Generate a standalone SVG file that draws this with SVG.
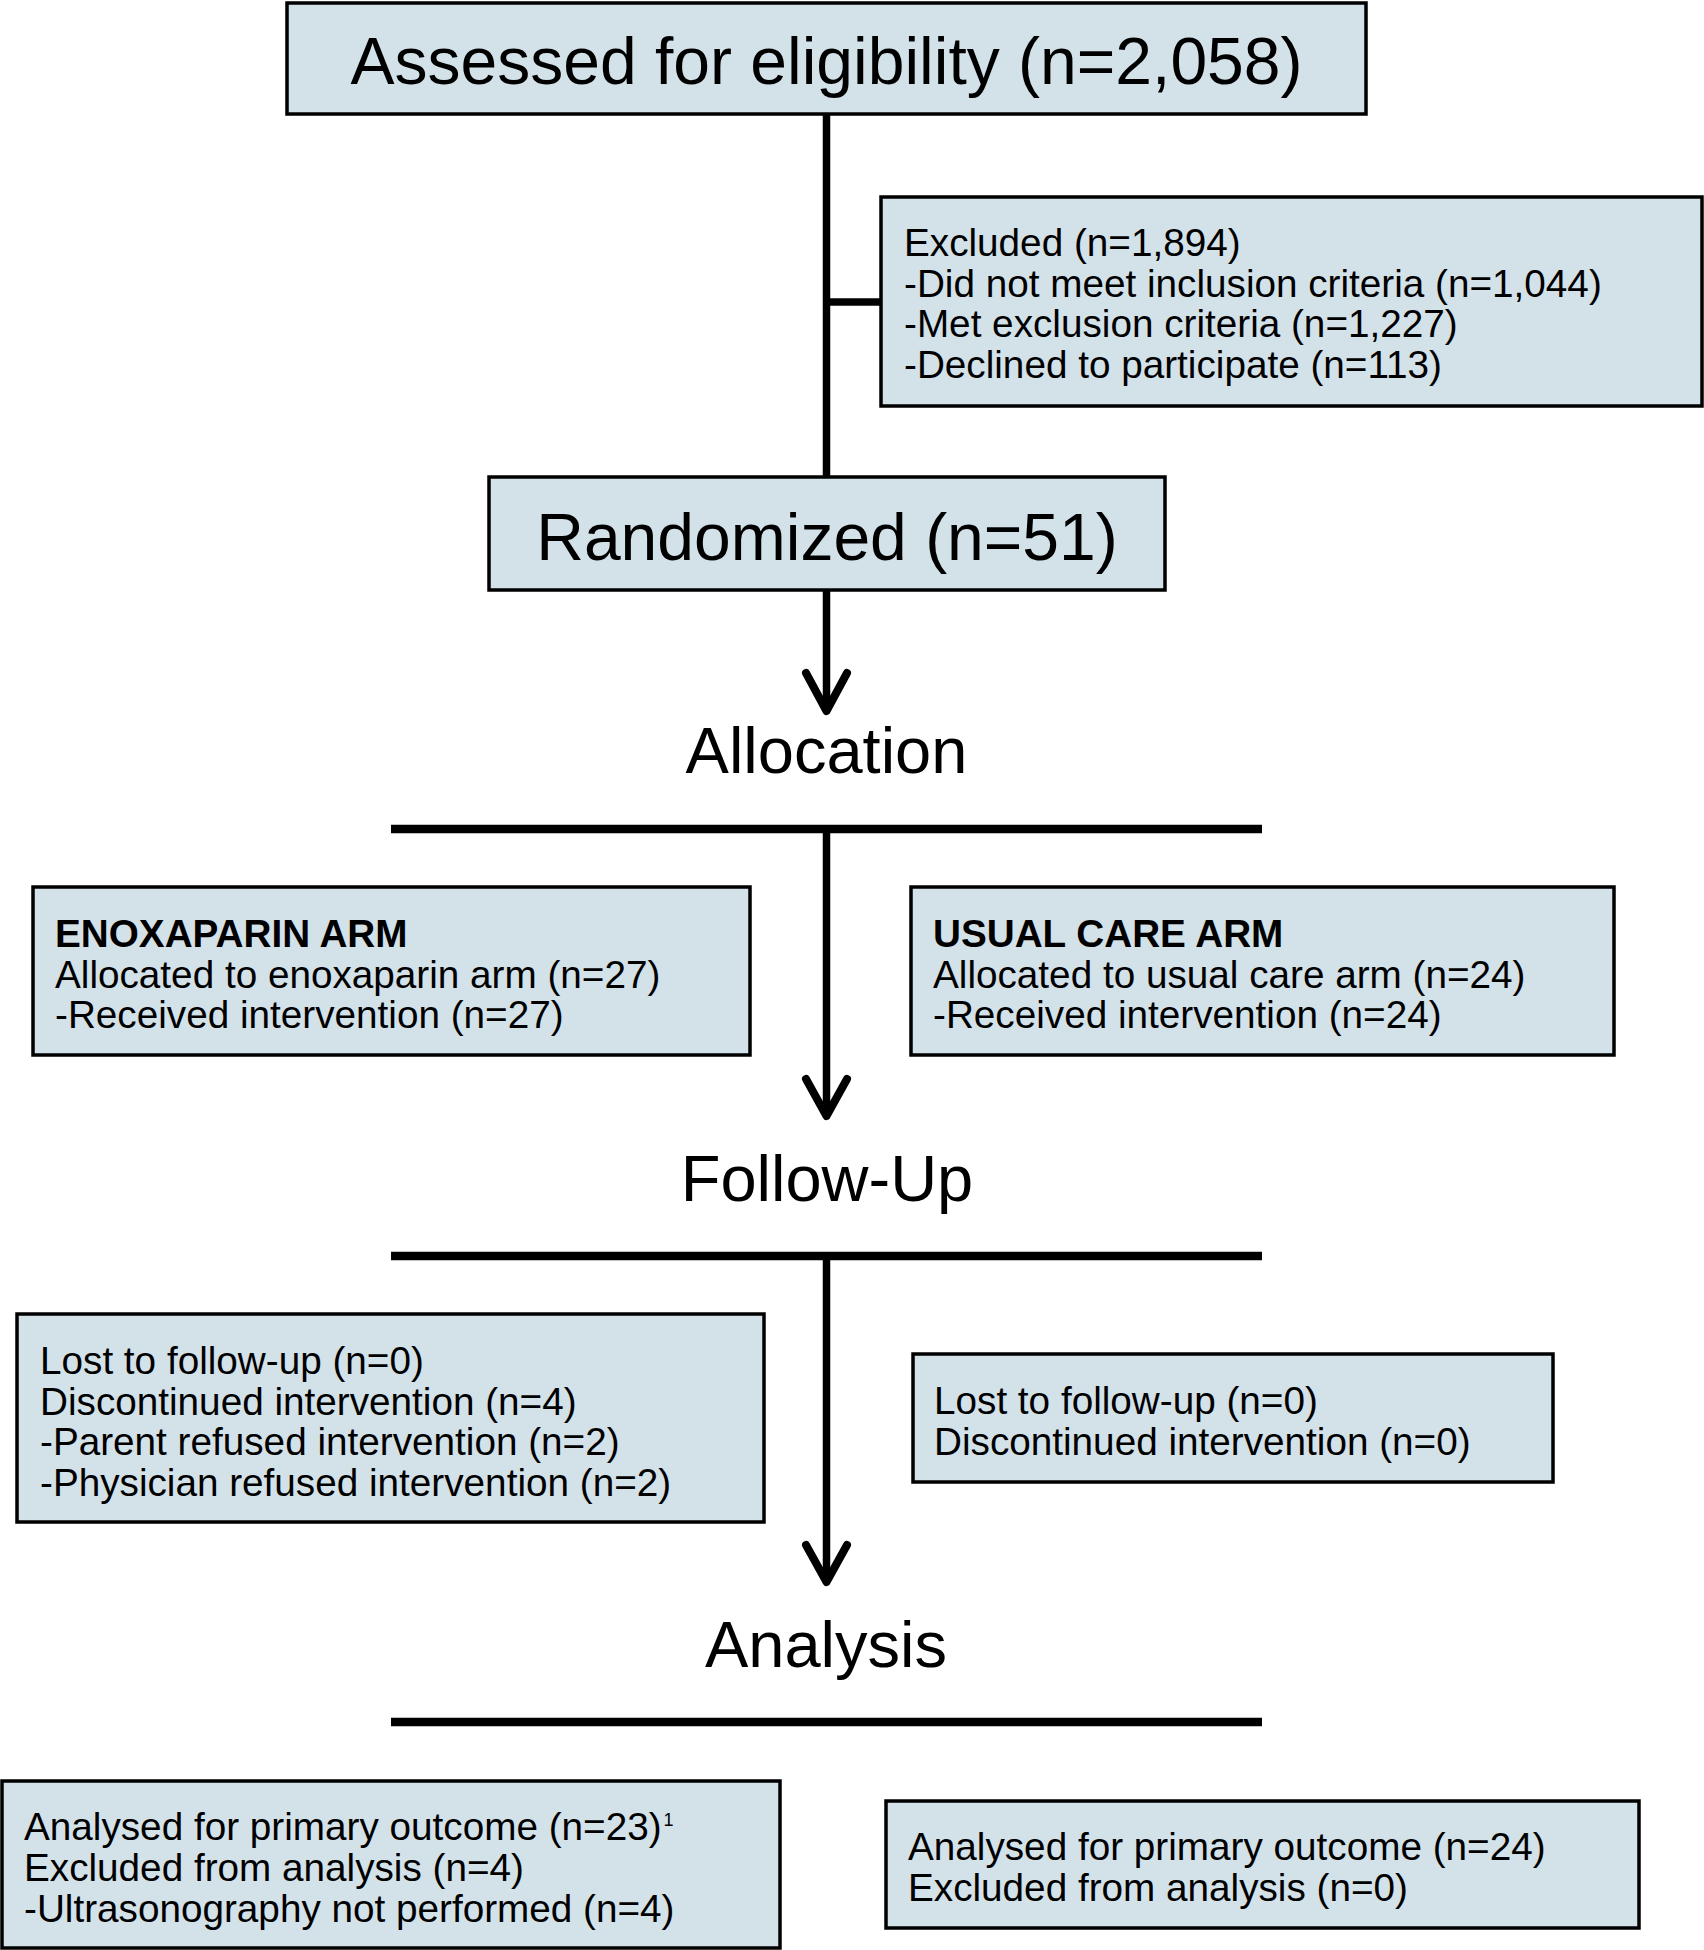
<svg xmlns="http://www.w3.org/2000/svg" width="1704" height="1950" viewBox="0 0 1704 1950">
<style>
.box{fill:#d3e1e9;stroke:#000;stroke-width:3.5}
.t{font-family:"Liberation Sans",Arial,sans-serif;fill:#000}
.big{font-size:66px;text-anchor:middle}
.stage{font-size:65px;text-anchor:middle}
.sm{font-size:38.7px}
.b{font-weight:bold}
.ln{stroke:#000;stroke-width:7.5;fill:none}
.bar{stroke:#000;stroke-width:8.5;fill:none}
.ah{stroke:#000;stroke-width:8;fill:none;stroke-linecap:round;stroke-linejoin:round}
</style>
<rect width="1704" height="1950" fill="#fff"/>
<g id="connectors">
<line class="ln" x1="826.5" y1="114" x2="826.5" y2="477"/>
<line class="ln" x1="826.5" y1="302" x2="881" y2="302"/>
<line class="ln" x1="826.5" y1="590" x2="826.5" y2="710"/>
<polyline class="ah" points="806,673 826.5,711 847,673"/>
<line class="bar" x1="391" y1="829" x2="1262" y2="829"/>
<line class="ln" x1="826.5" y1="829" x2="826.5" y2="1115"/>
<polyline class="ah" points="806,1079 826.5,1116 847,1079"/>
<line class="bar" x1="391" y1="1256" x2="1262" y2="1256"/>
<line class="ln" x1="826.5" y1="1256" x2="826.5" y2="1581"/>
<polyline class="ah" points="806,1545 826.5,1582 847,1545"/>
<line class="bar" x1="391" y1="1722" x2="1262" y2="1722"/>
</g>
<g id="assessed">
<rect class="box" x="287" y="3" width="1079" height="111"/>
<text class="t big" x="826.5" y="84">Assessed for eligibility (n=2,058)</text>
</g>
<g id="excluded">
<rect class="box" x="881" y="197" width="821" height="209"/>
<text class="t sm" x="904" y="256">Excluded (n=1,894)</text>
<text class="t sm" x="904" y="296.5">-Did not meet inclusion criteria (n=1,044)</text>
<text class="t sm" x="904" y="337">-Met exclusion criteria (n=1,227)</text>
<text class="t sm" x="904" y="377.5">-Declined to participate (n=113)</text>
</g>
<g id="randomized">
<rect class="box" x="489" y="477" width="676" height="113"/>
<text class="t big" x="827" y="560">Randomized (n=51)</text>
</g>
<g id="allocation">
<text class="t stage" x="826.5" y="773">Allocation</text>
</g>
<g id="enox-arm">
<rect class="box" x="33" y="887" width="717" height="168"/>
<text class="t sm b" x="55" y="947">ENOXAPARIN ARM</text>
<text class="t sm" x="55" y="988">Allocated to enoxaparin arm (n=27)</text>
<text class="t sm" x="55" y="1028">-Received intervention (n=27)</text>
</g>
<g id="usual-arm">
<rect class="box" x="911" y="887" width="703" height="168"/>
<text class="t sm b" x="933" y="947">USUAL CARE ARM</text>
<text class="t sm" x="933" y="988">Allocated to usual care arm (n=24)</text>
<text class="t sm" x="933" y="1028">-Received intervention (n=24)</text>
</g>
<g id="followup">
<text class="t stage" x="827" y="1201">Follow-Up</text>
</g>
<g id="fu-enox">
<rect class="box" x="17" y="1314" width="747" height="208"/>
<text class="t sm" x="40" y="1374">Lost to follow-up (n=0)</text>
<text class="t sm" x="40" y="1414.5">Discontinued intervention (n=4)</text>
<text class="t sm" x="40" y="1455">-Parent refused intervention (n=2)</text>
<text class="t sm" x="40" y="1495.5">-Physician refused intervention (n=2)</text>
</g>
<g id="fu-usual">
<rect class="box" x="913" y="1354" width="640" height="128"/>
<text class="t sm" x="934" y="1414">Lost to follow-up (n=0)</text>
<text class="t sm" x="934" y="1455">Discontinued intervention (n=0)</text>
</g>
<g id="analysis">
<text class="t stage" x="826" y="1667">Analysis</text>
</g>
<g id="an-enox">
<rect class="box" x="2" y="1781" width="778" height="167"/>
<text class="t sm" x="24" y="1840">Analysed for primary outcome (n=23)<tspan font-size="18" dx="2" dy="-14">1</tspan></text>
<text class="t sm" x="24" y="1881">Excluded from analysis (n=4)</text>
<text class="t sm" x="24" y="1922">-Ultrasonography not performed (n=4)</text>
</g>
<g id="an-usual">
<rect class="box" x="886" y="1801" width="753" height="127"/>
<text class="t sm" x="908" y="1860">Analysed for primary outcome (n=24)</text>
<text class="t sm" x="908" y="1901">Excluded from analysis (n=0)</text>
</g>
</svg>
